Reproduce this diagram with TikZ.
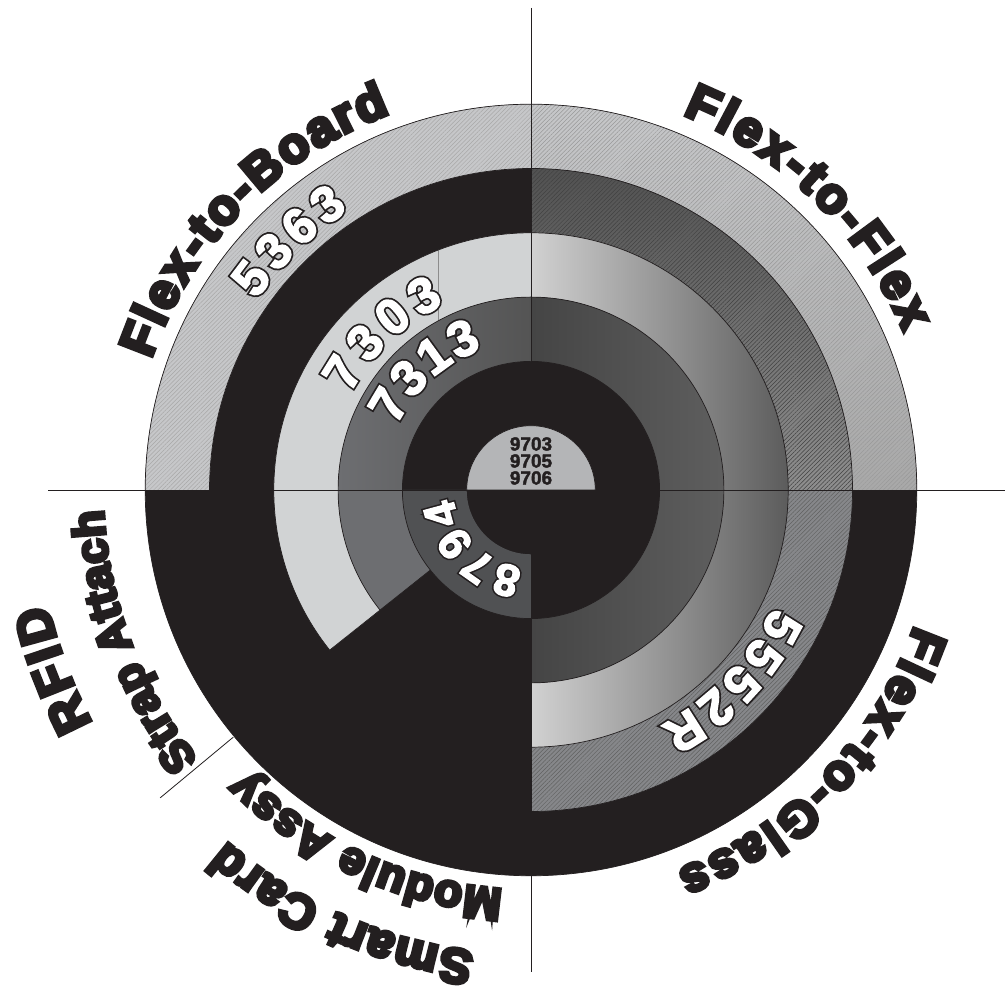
\documentclass[tikz,border=0pt]{standalone}
\usepackage{fontspec}
\usepackage{xcolor}
\usetikzlibrary{decorations.text, patterns.meta}
\newfontface\rimfont{Liberation Sans Bold}[FakeBold=8]
\newfontface\digfont{Liberation Sans Bold}[FakeBold=3]
\newfontface\digedge{Liberation Sans Bold}[FakeBold=10]
\newfontface\hubfont{Liberation Sans Bold}[FakeBold=2]
\definecolor{ink}{HTML}{231F20}
\definecolor{pale}{HTML}{D1D3D4}
\definecolor{steel}{HTML}{6D6E71}
\definecolor{slate}{HTML}{505153}
\definecolor{hubgray}{HTML}{B4B5B7}
\definecolor{hatchlight}{HTML}{C6C7C9}
\definecolor{hatchmid}{HTML}{86878A}

%% annulus sector: start angle, end angle, inner radius, outer radius
\newcommand\sectorpath[4]{(#1:#4) arc[start angle=#1, end angle=#2, radius=#4] -- (#2:#3) arc[start angle=#2, end angle=#1, radius=#3] -- cycle}
%% arc used as a text baseline: start angle, end angle, radius
\newcommand\labelarc[3]{(#1:#3) arc[start angle=#1, end angle=#2, radius=#3]}

\begin{document}
\begin{tikzpicture}[x=1pt, y=1pt,
  hatch/.style={
    pattern={Lines[angle=45, distance=3pt, line width=0.5pt]},
    pattern color=#1
  },
  rim/.style={draw=ink, line width=0.7pt},
  guide/.style={draw=ink, line width=0.8pt},
  rimtext/.style 2 args={
    decorate, decoration={text along path, text align={fit to path},
      text color=ink, text={|\rimfont\fontsize{#1}{#1}\selectfont|#2}}
  },
  digback/.style 2 args={
    decorate, decoration={text along path, text align={fit to path},
      text color=ink, text={|\digedge\fontsize{#1}{#1}\selectfont|#2}}
  },
  digfront/.style 2 args={
    decorate, decoration={text along path, text align={fit to path},
      text color=white, text={|\digfont\fontsize{#1}{#1}\selectfont|#2}}
  }
]
\useasboundingbox (0,0) rectangle (1005,1000);
\fill[white] (0,0) rectangle (1005,1000);

%% Ring radii (inner hub to outer rim)
\def\rA{64.3}
\def\rB{128.6}
\def\rC{192.9}
\def\rD{257.2}
\def\rE{321.5}
\def\rF{385.8}

%% === GUIDE LINES ===
\coordinate (ctr) at (531,510);
\coordinate (hl) at (48,510);
\coordinate (hr) at (1005,510);
\coordinate (vt) at (531,992);
\coordinate (vb) at (531,28);

\begin{scope}[shift={(ctr)}]

%% === DISC BASE ===
\fill[ink] (0,0) circle[radius=\rF];

%% === RING 6 (outer) ===
\fill[hatchlight] \sectorpath{90}{180}{\rE}{\rF};
\fill[hatch=black!34] \sectorpath{90}{180}{\rE}{\rF};
\shade[top color=hatchlight, bottom color=black!34] \sectorpath{0}{90}{\rE}{\rF};
\fill[hatch=black!40] \sectorpath{0}{90}{\rE}{\rF};

%% === RING 5 ===
\shade[top color=black!68, bottom color=black!44] \sectorpath{0}{90}{\rD}{\rE};
\fill[hatch=black!74] \sectorpath{0}{90}{\rD}{\rE};
\fill[hatchmid] \sectorpath{-90}{0}{\rD}{\rE};
\fill[hatch=black!62] \sectorpath{-90}{0}{\rD}{\rE};

%% === RING 4 ===
\fill[pale] \sectorpath{90}{218.5}{\rC}{\rD};
\shade[left color=black!18, right color=black!64] \sectorpath{-90}{90}{\rC}{\rD};
\draw[black!45, line width=0.5pt] (-93,169) -- (-93,239.8);

%% === RING 3 ===
\shade[left color=steel, right color=black!67] \sectorpath{90}{180}{\rB}{\rC};
\fill[steel] \sectorpath{180}{218.5}{\rB}{\rC};
\shade[left color=black!73, middle color=black!82, right color=black!63] \sectorpath{-90}{90}{\rB}{\rC};

%% === RING 2 ===
\fill[slate] \sectorpath{180}{270}{\rA}{\rB};

%% === RING OUTLINES ===
\foreach \r in {\rB,\rC,\rD,\rE,\rF}
  \draw[rim] (0,0) circle[radius=\r];
\draw[rim] (218.5:\rB) -- (218.5:\rD);

%% === GUIDE LINES (over the disc) ===
\draw[guide] (hl) -- (hr);
\draw[guide] (vt) -- (vb);
\coordinate (sepin) at (219.7:387);
\coordinate (sepout) at (219.7:482);
\draw[guide] (sepin) -- (sepout);

%% === HUB ===
\fill[hubgray, rim] (\rA,0) arc[start angle=0, end angle=180, radius=\rA] -- cycle;
\node[font=\hubfont\fontsize{19}{17}\selectfont, text=ink, align=center,
      inner sep=0pt] (hub) at (0,29) {9703\\9705\\9706};

%% === RING NUMBERS ===
\path[digback={50}{5363}]  \labelarc{145.3}{123.1}{334};
\path[digfront={50}{5363}] \labelarc{145.3}{123.1}{334};
\path[digback={50}{7303}]  \labelarc{152}{115}{205};
\path[digfront={50}{7303}] \labelarc{152}{115}{205};
\path[digback={50}{7313}]  \labelarc{154.5}{109}{149};
\path[digfront={50}{7313}] \labelarc{154.5}{109}{149};
\path[digback={45}{8794}]  \labelarc{264}{186}{78};
\path[digfront={45}{8794}] \labelarc{264}{186}{78};
\path[digback={50}{5552R}]  \labelarc{334.3}{298.7}{269};
\path[digfront={50}{5552R}] \labelarc{334.3}{298.7}{269};

%% === OUTER LABELS ===
\path[rimtext={50}{Flex-to-Board}] \labelarc{161}{110.5}{402};
\path[rimtext={50}{Flex-to-Flex}]  \labelarc{68}{23}{405};
\path[rimtext={50}{Flex-to-Glass}] \labelarc{340.6}{291}{407};
\path[rimtext={49}{Smart Card}]    \labelarc{263}{229}{465};
\path[rimtext={46}{Module Assy}]   \labelarc{266}{224.5}{400};
\path[rimtext={45}{Strap Attach}]  \labelarc{219}{182.6}{428};
\path[rimtext={50}{RFID}]          \labelarc{208}{193.3}{497};

\end{scope}
\end{tikzpicture}
\end{document}
